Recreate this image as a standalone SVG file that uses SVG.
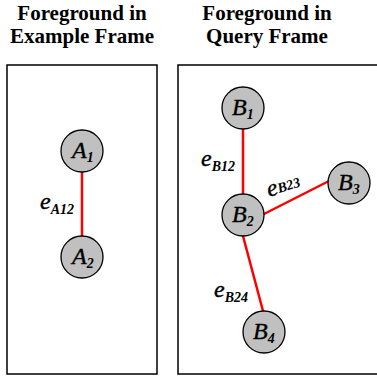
<svg xmlns="http://www.w3.org/2000/svg" width="377" height="376" viewBox="0 0 377 376">
<style>
.title{font-family:"Liberation Serif","Times New Roman",serif;font-weight:bold;font-size:21px;text-anchor:middle;fill:#000}
.frame{fill:#fff;stroke:#000;stroke-width:1.5}
.node circle{fill:#c0c0c0;stroke:#000;stroke-width:1.3}
.lbl{font-family:"Liberation Serif","Times New Roman",serif;font-style:italic;font-size:24px;fill:#000;stroke:#000;stroke-width:0.4}
.sub{font-size:14px;font-weight:bold;stroke-width:0}
.edge{stroke:#f00;stroke-width:2.5}
</style>
<rect width="377" height="376" fill="#fff"/>
<text class="title" x="82" y="20">Foreground in</text>
<text class="title" x="82" y="43">Example Frame</text>
<text class="title" x="267" y="20">Foreground in</text>
<text class="title" x="267" y="43">Query Frame</text>
<rect class="frame" x="7" y="65" width="150" height="309"/>
<rect class="frame" x="178" y="65" width="205" height="309"/>
<g id="connectors">
<line class="edge" x1="82" y1="172" x2="82" y2="236"/>
<line class="edge" x1="243" y1="129" x2="243" y2="194"/>
<line class="edge" x1="262" y1="215" x2="329" y2="181"/>
<line class="edge" x1="243" y1="236" x2="263" y2="311"/>
<text class="lbl" x="40" y="209">e<tspan class="sub" dy="5">A12</tspan></text>
<text class="lbl" x="201" y="166">e<tspan class="sub" dy="5">B12</tspan></text>
<text class="lbl" transform="translate(269,197) rotate(-17)">e<tspan class="sub" dy="-1">B23</tspan></text>
<text class="lbl" x="214" y="297">e<tspan class="sub" dy="5">B24</tspan></text>
</g>
<g id="A1" class="node"><circle cx="82" cy="151" r="21"/><text class="lbl" x="72" y="158">A<tspan class="sub" dy="4">1</tspan></text></g>
<g id="A2" class="node"><circle cx="82" cy="257" r="21"/><text class="lbl" x="72" y="264">A<tspan class="sub" dy="4">2</tspan></text></g>
<g id="B1" class="node"><circle cx="243" cy="108" r="21"/><text class="lbl" x="232" y="115">B<tspan class="sub" dy="4">1</tspan></text></g>
<g id="B2" class="node"><circle cx="243" cy="215" r="21"/><text class="lbl" x="232" y="222">B<tspan class="sub" dy="4">2</tspan></text></g>
<g id="B3" class="node"><circle cx="349" cy="183" r="21"/><text class="lbl" x="338" y="190">B<tspan class="sub" dy="4">3</tspan></text></g>
<g id="B4" class="node"><circle cx="264" cy="332" r="21"/><text class="lbl" x="253" y="339">B<tspan class="sub" dy="4">4</tspan></text></g>
</svg>
